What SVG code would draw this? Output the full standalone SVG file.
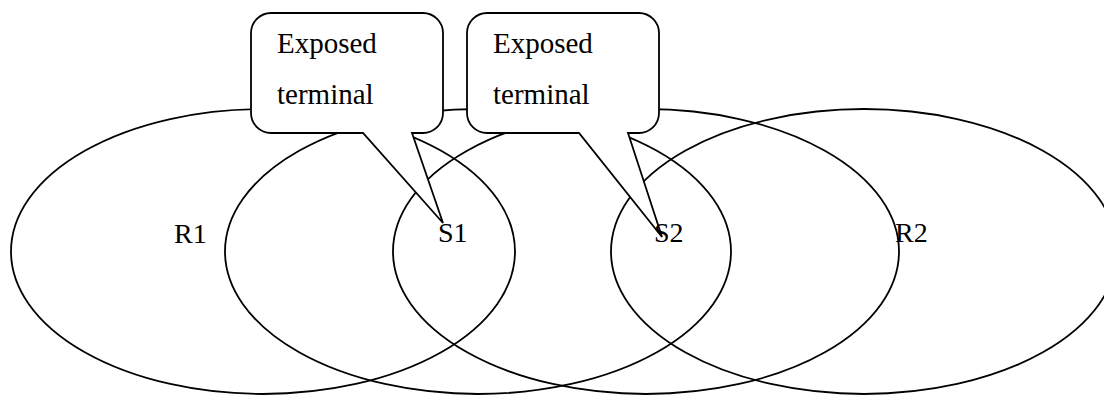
<svg xmlns="http://www.w3.org/2000/svg" width="1104" height="396" viewBox="0 0 1104 396">
<style>
.reg{fill:none;stroke:#000;stroke-width:1.8}
.call{fill:#fff;stroke:#000;stroke-width:1.8;stroke-linejoin:miter}
.t{font-family:"Liberation Serif","Times New Roman",serif;font-size:28px;fill:#000}
.c{font-size:29px}
</style>
<rect width="1104" height="396" fill="#fff"/>
<g id="R1"><ellipse class="reg" cx="263" cy="251.5" rx="252" ry="142.5"/></g>
<g id="S1"><ellipse class="reg" cx="478" cy="251.5" rx="253" ry="142.5"/></g>
<g id="S2"><ellipse class="reg" cx="646" cy="251.5" rx="253" ry="142.5"/></g>
<g id="R2"><ellipse class="reg" cx="864" cy="251.5" rx="253" ry="142.5"/></g>
<g id="callout1">
<path class="call" d="M271,13 H423 A20,20 0 0 1 443,33 V113 A20,20 0 0 1 423,133 H412 L443,223 L363,133 H271 A20,20 0 0 1 251,113 V33 A20,20 0 0 1 271,13 Z"/>
<text class="t c" x="277" y="53">Exposed</text>
<text class="t c" x="277" y="104">terminal</text>
</g>
<g id="callout2">
<path class="call" d="M487,13 H639 A20,20 0 0 1 659,33 V113 A20,20 0 0 1 639,133 H628 L662,237 L579,133 H487 A20,20 0 0 1 467,113 V33 A20,20 0 0 1 487,13 Z"/>
<text class="t c" x="493" y="53">Exposed</text>
<text class="t c" x="493" y="104">terminal</text>
</g>
<g id="labels">
<text class="t" x="174" y="243">R1</text>
<text class="t" x="438" y="242">S1</text>
<text class="t" x="654" y="242">S2</text>
<text class="t" x="895" y="242">R2</text>
</g>
</svg>
